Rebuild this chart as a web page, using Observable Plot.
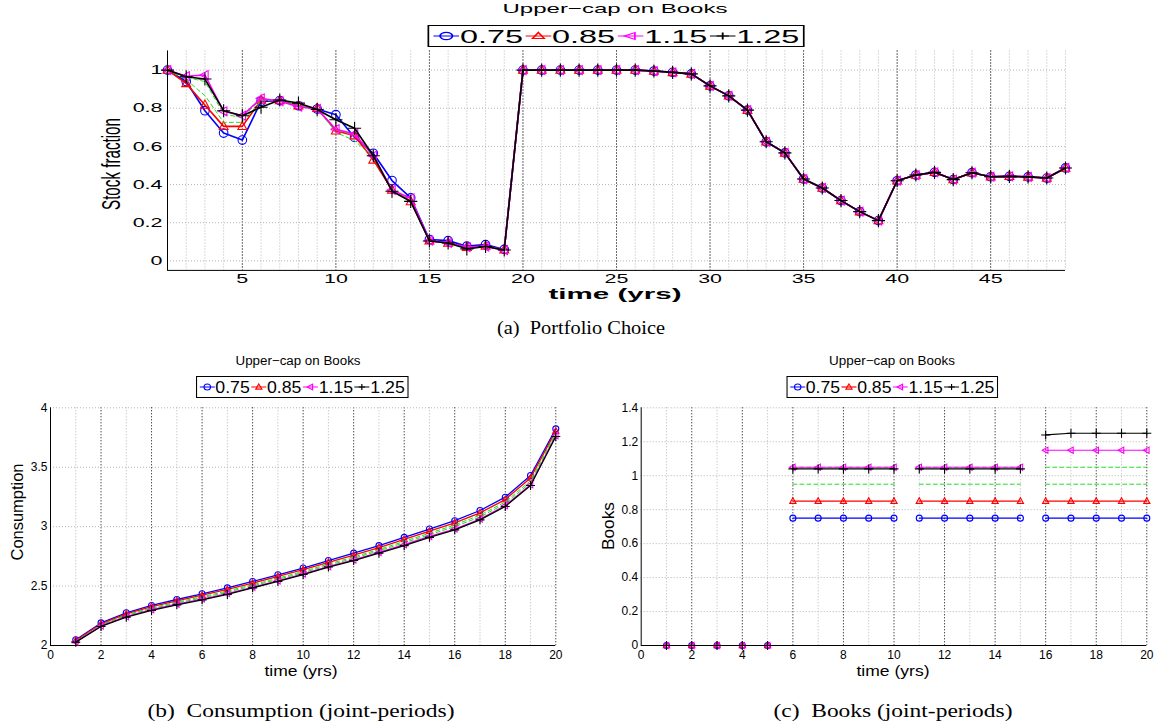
<!DOCTYPE html>
<html><head><meta charset="utf-8">
<script src="https://cdn.jsdelivr.net/npm/d3@7"></script>
<script src="https://cdn.jsdelivr.net/npm/@observablehq/plot@0.6"></script>
<style>
body{margin:0;background:#fff;}
#root{position:relative;width:1156px;height:721px;overflow:hidden;font-family:"Liberation Sans",Arial,sans-serif;color:#000;background:#fff;}
.legend{position:absolute;display:flex;align-items:center;justify-content:space-between;border:1.4px solid #000;background:#fff;box-sizing:border-box;white-space:nowrap;line-height:1;}
.legend .it{display:flex;align-items:center;}
.legend svg{display:block;}
</style></head>
<body><div id="root"></div>
<script>
// ---------------- DATA ----------------
const seriesLabels = ["0.75","0.85","0.95","1.05","1.15","1.25"];
const legendLabels = ["0.75","0.85","1.15","1.25"];

// Panel (a): Portfolio choice, time 1..49
const tA = [1,2,3,4,5,6,7,8,9,10,11,12,13,14,15,16,17,18,19,20,21,22,23,24,25,26,27,28,29,30,31,32,33,34,35,36,37,38,39,40,41,42,43,44,45,46,47,48,49];
const xTicksA = [5,10,15,20,25,30,35,40,45];
const yTicksA = [0,0.2,0.4,0.6,0.8,1];
const stockHead075 = [1.0,0.94,0.787,0.67,0.633,0.836,0.84,0.813,0.796,0.766,0.647,0.564,0.421,0.33,0.112,0.106,0.077,0.085,0.06];
const stockHead085 = [1.0,0.93,0.817,0.705,0.705,0.843,0.84,0.813,0.80,0.682,0.656,0.529,0.372,0.311,0.106,0.094,0.072,0.078,0.058];
const stockHead095 = [1.0,0.95,0.866,0.726,0.726,0.84,0.84,0.815,0.798,0.674,0.63,0.543,0.377,0.315,0.106,0.094,0.072,0.077,0.058];
const stockHead105 = [1.0,0.962,0.94,0.77,0.75,0.848,0.838,0.81,0.797,0.685,0.66,0.549,0.372,0.322,0.106,0.094,0.071,0.076,0.057];
const stockHead115 = [1.0,0.968,0.974,0.784,0.761,0.852,0.837,0.808,0.796,0.69,0.665,0.551,0.372,0.328,0.106,0.094,0.072,0.075,0.056];
const stockHead125 = [1.0,0.965,0.953,0.787,0.761,0.805,0.843,0.827,0.793,0.74,0.695,0.551,0.365,0.312,0.104,0.094,0.063,0.075,0.057];
const stockTail = [1.0,1.0,1.0,1.0,1.0,1.0,1.0,0.995,0.988,0.98,0.917,0.865,0.79,0.624,0.566,0.429,0.382,0.316,0.258,0.211,0.42,0.45,0.464,0.426,0.462,0.441,0.443,0.44,0.434,0.487];

// Panels (b), (c): joint periods, time 1..20
const tB = [1,2,3,4,5,6,7,8,9,10,11,12,13,14,15,16,17,18,19,20];
const blockB = [1,1,1,1,1,2,2,2,2,2,3,3,3,3,3,4,4,4,4,4];
const xTicksB = [0,2,4,6,8,10,12,14,16,18,20];
const xMinorB = [1,3,5,7,9,11,13,15,17,19];
const yTicksCons = [2,2.5,3,3.5,4];
const yTicksBooks = [0,0.2,0.4,0.6,0.8,1,1.2,1.4];

const cons075 = [2.048,2.19,2.275,2.337,2.387,2.435,2.485,2.539,2.595,2.652,2.715,2.777,2.84,2.91,2.98,3.05,3.136,3.248,3.43,3.823];
const cons085 = [2.042,2.182,2.266,2.328,2.376,2.423,2.472,2.525,2.581,2.638,2.70,2.761,2.824,2.893,2.962,3.032,3.116,3.228,3.41,3.805];
const cons095 = [2.037,2.175,2.257,2.317,2.365,2.41,2.459,2.511,2.566,2.623,2.685,2.745,2.808,2.876,2.945,3.014,3.097,3.207,3.387,3.79];
const cons105 = [2.034,2.17,2.25,2.31,2.357,2.401,2.449,2.501,2.556,2.613,2.674,2.734,2.797,2.864,2.932,3.0,3.082,3.193,3.37,3.777];
const cons115 = [2.03,2.165,2.243,2.301,2.348,2.391,2.437,2.49,2.544,2.602,2.663,2.72,2.783,2.848,2.918,2.98,3.064,3.177,3.352,3.765];
const cons125 = [2.028,2.16,2.238,2.295,2.342,2.384,2.43,2.485,2.539,2.597,2.66,2.715,2.777,2.84,2.91,2.973,3.057,3.17,3.346,3.759];

const books075 = [0,0,0,0,0,0.75,0.75,0.75,0.75,0.75,0.75,0.75,0.75,0.75,0.75,0.75,0.75,0.75,0.75,0.75];
const books085 = [0,0,0,0,0,0.85,0.85,0.85,0.85,0.85,0.85,0.85,0.85,0.85,0.85,0.85,0.85,0.85,0.85,0.85];
const books095 = [0,0,0,0,0,0.95,0.95,0.95,0.95,0.95,0.95,0.95,0.95,0.95,0.95,0.95,0.95,0.95,0.95,0.95];
const books105 = [0,0,0,0,0,1.05,1.05,1.05,1.05,1.05,1.05,1.05,1.05,1.05,1.05,1.05,1.05,1.05,1.05,1.05];
const books115 = [0,0,0,0,0,1.05,1.05,1.05,1.05,1.05,1.05,1.05,1.05,1.05,1.05,1.15,1.15,1.15,1.15,1.15];
const books125 = [0,0,0,0,0,1.04,1.04,1.04,1.04,1.04,1.04,1.04,1.04,1.04,1.04,1.24,1.25,1.25,1.25,1.25];

// ---------------- STYLE ----------------
const SANS = '"Liberation Sans", Arial, Helvetica, sans-serif';
const SERIF = '"Liberation Serif", "Times New Roman", serif';
const triUp = {draw(ctx, size){ const r = Math.sqrt(size/Math.PI)*1.15; ctx.moveTo(0,-r); ctx.lineTo(r*0.9,r*0.65); ctx.lineTo(-r*0.9,r*0.65); ctx.closePath(); }};
const triLeft = {draw(ctx, size){ const r = Math.sqrt(size/Math.PI)*1.15; ctx.moveTo(-r,0); ctx.lineTo(r*0.65,-r*0.9); ctx.lineTo(r*0.65,r*0.9); ctx.closePath(); }};
const STY = [
  {color:"#0000ff", sym:"circle", kind:"circle"},
  {color:"#ff0000", sym:triUp, kind:"up"},
  {color:"#22dd22", sym:null, dash:"4,3"},
  {color:"#22dd22", sym:null, dash:"4,3"},
  {color:"#ff00ff", sym:triLeft, kind:"left"},
  {color:"#000000", sym:"plus", kind:"plus"}
];
const legendIdx = [0,1,4,5];
const GRAY = "#b5b5b5";

const root = document.getElementById("root");

function seriesMarks(t, vals, st, lw, r, blocks) {
  const rows = t.map((d,i)=>({t:d, v:vals[i], b: blocks ? blocks[i] : 0}));
  const m = [Plot.line(rows, {x:"t", y:"v", z:"b", stroke:st.color, strokeWidth: st.dash ? 1 : lw, strokeDasharray: st.dash})];
  if (st.sym) m.push(Plot.dot(rows, {x:"t", y:"v", symbol:st.sym, r, stroke:st.color, fill:"none", strokeWidth:1.1}));
  return m;
}

function place(svg, left, top) {
  const d = document.createElement("div");
  d.style.cssText = `position:absolute;left:${left}px;top:${top}px;`;
  d.appendChild(svg);
  root.appendChild(d);
}

// stretch tick label glyphs horizontally (the reference panel is horizontally stretched)
function stretchTicks(svg, k) {
  svg.querySelectorAll("text").forEach(tx => {
    const w = tx.getComputedTextLength();
    if (w > 0) {
      tx.setAttribute("textLength", (w * k).toFixed(2));
      tx.setAttribute("lengthAdjust", "spacingAndGlyphs");
    }
  });
}

function placeText(txt, cx, cy, o) {
  const el = document.createElement("div");
  el.textContent = txt;
  el.style.cssText = `position:absolute;left:${cx}px;top:${cy}px;white-space:nowrap;line-height:1;font-size:${o.size}px;font-family:${o.family||SANS};font-weight:${o.weight||"normal"};`;
  root.appendChild(el);
  const w = el.getBoundingClientRect().width;
  const k = o.targetW ? o.targetW / w : 1;
  const ky = o.thick || 1;
  el.style.transform = o.rotate
    ? `translate(-50%,-50%) rotate(-90deg) scale(${k},${ky})`
    : `translate(-50%,-50%) scale(${k},${ky})`;
}

function symSvg(st, w, h, mr) {
  const cy = h/2, cx = w/2;
  let mk = "";
  if (st.kind === "circle") mk = `<circle cx="${cx}" cy="${cy}" r="${mr}" fill="none" stroke="${st.color}" stroke-width="1.1"/>`;
  if (st.kind === "up") mk = `<polygon points="${cx},${cy-mr} ${cx+mr*0.95},${cy+mr*0.7} ${cx-mr*0.95},${cy+mr*0.7}" fill="none" stroke="${st.color}" stroke-width="1.1"/>`;
  if (st.kind === "left") mk = `<polygon points="${cx-mr},${cy} ${cx+mr*0.7},${cy-mr*0.95} ${cx+mr*0.7},${cy+mr*0.95}" fill="none" stroke="${st.color}" stroke-width="1.1"/>`;
  if (st.kind === "plus") mk = `<path d="M${cx-mr},${cy}H${cx+mr}M${cx},${cy-mr}V${cy+mr}" stroke="${st.color}" stroke-width="1.1"/>`;
  return `<svg width="${w}" height="${h}"><line x1="0.5" x2="${w-0.5}" y1="${cy}" y2="${cy}" stroke="${st.color}" stroke-width="1.2"/>${mk}</svg>`;
}

function legendBox(cx, cy, fontPx, symW, h, targetW, mr) {
  const box = document.createElement("div");
  box.className = "legend";
  box.style.fontSize = fontPx + "px";
  box.style.height = h + "px";
  box.style.padding = "0 2px";
  box.style.gap = "1px";
  legendLabels.forEach((lab, i) => {
    const st = STY[legendIdx[i]];
    const it = document.createElement("div");
    it.className = "it";
    it.innerHTML = symSvg(st, symW, h - 4, mr) + `<span>${lab}</span>`;
    box.appendChild(it);
  });
  box.style.left = cx + "px";
  box.style.top = cy + "px";
  root.appendChild(box);
  const w = box.getBoundingClientRect().width;
  box.style.transform = `translate(-50%,-50%) scaleX(${targetW / w})`;
}

const plotStyle = (fs) => ({fontFamily: SANS, fontSize: fs, background: "transparent", overflow: "visible", color: "#000"});

// ---------------- PANEL (a) ----------------
const stockSeries = [
  [...stockHead075, ...stockTail],
  [...stockHead085, ...stockTail],
  [...stockHead095, ...stockTail],
  [...stockHead105, ...stockTail],
  [...stockHead115, ...stockTail],
  [...stockHead125, ...stockTail]
];
const plotA = Plot.plot({
  width: 1156, height: 250,
  marginLeft: 167, marginRight: 91, marginTop: 10.5, marginBottom: 20.1,
  style: plotStyle("13px"),
  x: {domain: [1, 49], ticks: xTicksA, tickSize: 0, tickPadding: 3, label: null, tickFormat: d => String(d)},
  y: {domain: [-0.05, 1.1], ticks: yTicksA, tickSize: 0, tickPadding: 5, label: null, tickFormat: d => String(d)},
  marks: [
    Plot.ruleX(tA, {stroke: GRAY, strokeDasharray: "1,2"}),
    Plot.ruleX(xTicksA, {stroke: "#000", strokeDasharray: "1,2"}),
    Plot.ruleY(yTicksA, {stroke: GRAY, strokeDasharray: "1,2"}),
    Plot.ruleX([1], {stroke: "#000", strokeWidth: 1}),
    Plot.ruleY([-0.05], {stroke: "#000", strokeWidth: 1}),
    ...stockSeries.flatMap((vals, i) => seriesMarks(tA, vals, STY[i], 1.6, 4.3))
  ]
});
place(plotA, 0, 40);
stretchTicks(plotA, 1.65);

// ---------------- PANEL (b) ----------------
const consSeries = [cons075, cons085, cons095, cons105, cons115, cons125];
const plotB = Plot.plot({
  width: 580, height: 260,
  marginLeft: 50, marginRight: 24.7, marginTop: 7.3, marginBottom: 15,
  style: plotStyle("12px"),
  x: {domain: [0, 20], ticks: xTicksB, tickSize: 0, tickPadding: 5, label: null, tickFormat: d => String(d)},
  y: {domain: [2, 4], ticks: yTicksCons, tickSize: 0, tickPadding: 3, label: null, tickFormat: d => String(d)},
  marks: [
    Plot.ruleX(xMinorB, {stroke: GRAY, strokeDasharray: "1,2"}),
    Plot.ruleX(xTicksB.filter(d => d > 0), {stroke: "#000", strokeDasharray: "1,2"}),
    Plot.ruleY(yTicksCons.filter(d => d > 2), {stroke: GRAY, strokeDasharray: "1,2"}),
    Plot.ruleX([0], {stroke: "#000"}),
    Plot.ruleY([2], {stroke: "#000"}),
    ...consSeries.flatMap((vals, i) => seriesMarks(tB, vals, STY[i], 1.3, 3))
  ]
});
place(plotB, 0, 400);

// ---------------- PANEL (c) ----------------
const booksSeries = [books075, books085, books095, books105, books115, books125];
const plotC = Plot.plot({
  width: 576, height: 260,
  marginLeft: 60.7, marginRight: 9.7, marginTop: 7.3, marginBottom: 15,
  style: plotStyle("12px"),
  x: {domain: [0, 20], ticks: xTicksB, tickSize: 0, tickPadding: 5, label: null, tickFormat: d => String(d)},
  y: {domain: [0, 1.4], ticks: yTicksBooks, tickSize: 0, tickPadding: 3, label: null, tickFormat: d => String(d)},
  marks: [
    Plot.ruleX(xMinorB, {stroke: GRAY, strokeDasharray: "1,2"}),
    Plot.ruleX(xTicksB.filter(d => d > 0), {stroke: "#000", strokeDasharray: "1,2"}),
    Plot.ruleY(yTicksBooks.filter(d => d > 0), {stroke: GRAY, strokeDasharray: "1,2"}),
    Plot.ruleX([0], {stroke: "#000"}),
    Plot.ruleY([0], {stroke: "#000"}),
    ...booksSeries.flatMap((vals, i) => seriesMarks(tB, vals, STY[i], 1.2, 3, blockB))
  ]
});
place(plotC, 580, 400);

// ---------------- TEXT ----------------
placeText("Upper\u2212cap on Books", 615, 9, {size: 13.5, targetW: 225});
legendBox(616, 36, 19, 16, 22, 377, 3.6);
placeText("time (yrs)", 615, 293, {size: 15, weight: "bold", targetW: 133});
placeText("Stock fraction", 110, 164, {size: 15, rotate: true, targetW: 92, thick: 1.75});
placeText("(a)\u00a0\u00a0Portfolio Choice", 581, 328, {size: 18, family: SERIF, targetW: 168});

placeText("Upper\u2212cap on Books", 298, 361, {size: 12.5, targetW: 125});
legendBox(302, 387, 16.5, 15, 22, 212, 3);
placeText("time (yrs)", 301, 670, {size: 15, targetW: 73});
placeText("Consumption", 18, 512, {size: 16, rotate: true, targetW: 97});
placeText("(b)\u00a0\u00a0Consumption (joint-periods)", 301, 711, {size: 18, family: SERIF, targetW: 307});

placeText("Upper\u2212cap on Books", 892, 361, {size: 12.5, targetW: 126});
legendBox(892, 387, 16.5, 15, 22, 211, 3);
placeText("time (yrs)", 893, 670, {size: 15, targetW: 73});
placeText("Books", 608, 526, {size: 17, rotate: true, targetW: 48});
placeText("(c)\u00a0\u00a0Books (joint-periods)", 893, 711, {size: 18, family: SERIF, targetW: 239});
</script></body></html>
